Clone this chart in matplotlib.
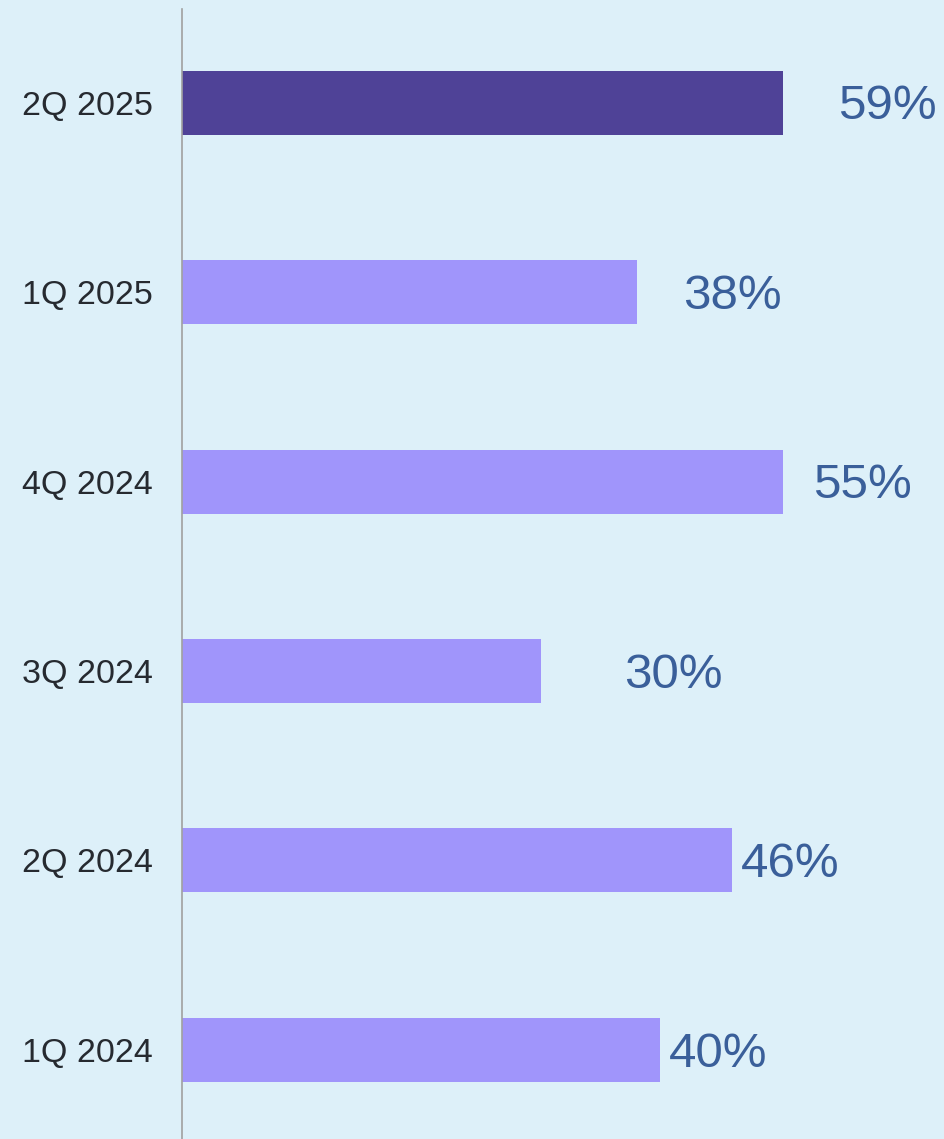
import matplotlib
matplotlib.use("Agg")
import matplotlib.pyplot as plt

# Quarter share chart, bottom to top
quarters = ['1Q 2024', '2Q 2024', '3Q 2024', '4Q 2024', '1Q 2025', '2Q 2025']
bar_len = [46.9, 54.0, 35.2, 59.0, 44.65, 59.0]   # bar lengths as drawn
pct_labels = ['40%', '46%', '30%', '55%', '38%', '59%']
label_x = [47.8, 54.9, 43.4, 61.9, 49.2, 64.4]    # where each label starts

BG = '#ddf0f9'
LIGHT = '#a095fb'
DARK = '#4f4297'

plt.rcParams['font.family'] = ['Liberation Sans', 'DejaVu Sans']

fig = plt.figure(figsize=(9.44, 11.39), dpi=100, facecolor=BG)
ax = fig.add_axes([182 / 944, 0, 1 - 182 / 944, 1 - 9 / 1139])
ax.set_facecolor(BG)

ypos = list(range(len(quarters)))
colors = [LIGHT] * (len(quarters) - 1) + [DARK]
ax.barh(ypos, bar_len, height=0.338, color=colors, zorder=2)

for y, txt, x in zip(ypos, pct_labels, label_x):
  ax.annotate(txt, (x, y), xytext=(0, -3), textcoords='offset points',
              ha='left', va='center', fontsize=35.5, color='#3a5f9a')

ax.set_xlim(0, 74.8)
ax.set_ylim(-0.47, 5.494)
ax.set_yticks(ypos)
ax.set_yticklabels(quarters, fontsize=24.5, color='#262a30')
ax.tick_params(axis='y', length=0, pad=21)
ax.set_xticks([])
for s in ['top', 'right', 'bottom']:
  ax.spines[s].set_visible(False)
ax.spines['left'].set_color('#a0a0a0')
ax.spines['left'].set_linewidth(1.2)

fig.savefig('out.png', dpi=100, facecolor=BG)
